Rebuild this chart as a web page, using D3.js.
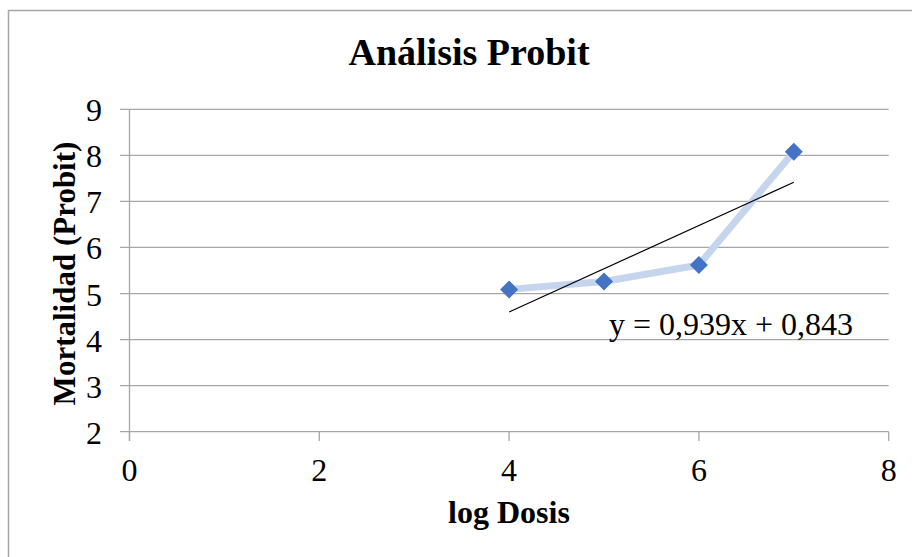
<!DOCTYPE html>
<html><head><meta charset="utf-8">
<script src="https://cdn.jsdelivr.net/npm/d3@7"></script>
<style>body{margin:0;background:#fff}svg{display:block}text{font-family:"Liberation Serif","Times New Roman",serif}</style>
</head><body><svg id="c" width="912" height="557"></svg>
<script>
const xValues = [4, 5, 6, 7];
const yValues = [5.09, 5.26, 5.62, 8.08];
const xTicks = [0, 2, 4, 6, 8];
const yTicks = [2, 3, 4, 5, 6, 7, 8, 9];
const slope = 0.939, intercept = 0.843;
const titleText = "Análisis Probit";
const xTitle = "log Dosis";
const yTitle = "Mortalidad (Probit)";
const eqText = "y = 0,939x + 0,843";

const svg = d3.select("#c");
svg.append("rect").attr("x",8.5).attr("y",10.5).attr("width",920).attr("height",560)
  .attr("fill","#fff").attr("stroke","#a6a6a6").attr("stroke-width",1.5);

const x = d3.scaleLinear().domain([0,8]).range([129.5,888.7]);
const y = d3.scaleLinear().domain([2,9]).range([431.7,109.3]);

svg.append("g").selectAll("line").data(yTicks).join("line")
  .attr("x1",120).attr("x2",x(8)).attr("y1",d=>y(d)).attr("y2",d=>y(d))
  .attr("stroke","#a6a6a6").attr("stroke-width",1.3);
svg.append("line").attr("x1",x(0)).attr("x2",x(0)).attr("y1",y(9)).attr("y2",441)
  .attr("stroke","#a6a6a6").attr("stroke-width",1.3);
svg.append("g").selectAll("line").data(xTicks).join("line")
  .attr("x1",d=>x(d)).attr("x2",d=>x(d)).attr("y1",y(2)).attr("y2",441)
  .attr("stroke","#a6a6a6").attr("stroke-width",1.3);

svg.append("g").selectAll("text").data(yTicks).join("text")
  .attr("x",102).attr("y",d=>y(d)+12).attr("text-anchor","end")
  .attr("font-size",32).text(d=>d);
svg.append("g").selectAll("text").data(xTicks).join("text")
  .attr("x",d=>x(d)).attr("y",481).attr("text-anchor","middle")
  .attr("font-size",32).text(d=>d);

const pts = xValues.map((v,i)=>[v,yValues[i]]);
svg.append("path").datum(pts)
  .attr("d",d3.line().x(d=>x(d[0])).y(d=>y(d[1])))
  .attr("fill","none").attr("stroke","#c5d5ee").attr("stroke-width",7).attr("stroke-linejoin","round");

const tx = [d3.min(xValues), d3.max(xValues)];
svg.append("line").attr("x1",x(tx[0])).attr("y1",y(slope*tx[0]+intercept))
  .attr("x2",x(tx[1])).attr("y2",y(slope*tx[1]+intercept))
  .attr("stroke","#000").attr("stroke-width",1.2);

svg.append("g").selectAll("path").data(pts).join("path")
  .attr("transform",d=>`translate(${x(d[0])},${y(d[1])})`)
  .attr("d","M0,-9L9,0L0,9L-9,0Z").attr("fill","#4472c4");

svg.append("text").attr("x",469).attr("y",65).attr("text-anchor","middle")
  .attr("font-size",38).attr("font-weight","bold").text(titleText);
svg.append("text").attr("x",509).attr("y",523).attr("text-anchor","middle")
  .attr("font-size",32).attr("font-weight","bold").text(xTitle);
svg.append("text").attr("transform","translate(75,273.5) rotate(-90)").attr("text-anchor","middle")
  .attr("font-size",31).attr("font-weight","bold").text(yTitle);
svg.append("text").attr("x",609).attr("y",335)
  .attr("font-size",32).text(eqText);
</script></body></html>
